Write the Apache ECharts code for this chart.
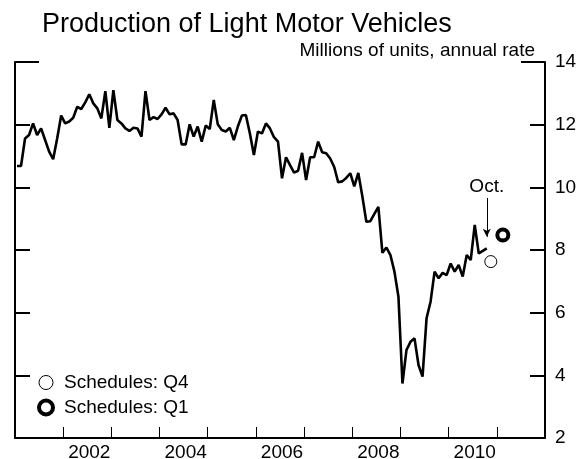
<!DOCTYPE html>
<html>
<head>
<meta charset="utf-8">
<script src="https://cdn.jsdelivr.net/npm/echarts@6/dist/echarts.min.js"></script>
<style>
  html, body { margin: 0; padding: 0; background: #fff; }
  #chart { width: 584px; height: 459px; }
</style>
</head>
<body>
<div id="chart"></div>
<script>
// monthly production, millions of units (annual rate)
const prod2001 = [10.68, 10.68, 11.56, 11.67, 12.04, 11.67, 11.88, 11.51, 11.14, 10.90, 11.56, 12.29]
const prod2002 = [12.04, 12.10, 12.22, 12.57, 12.50, 12.71, 12.97, 12.68, 12.52, 12.20, 13.07, 11.90]
const prod2003 = [13.10, 12.15, 12.04, 11.88, 11.80, 11.90, 11.88, 11.62, 13.07, 12.15, 12.24, 12.18]
const prod2004 = [12.33, 12.54, 12.33, 12.36, 12.15, 11.37, 11.37, 12.01, 11.62, 11.94, 11.46, 11.97]
const prod2005 = [11.86, 12.79, 12.01, 11.83, 11.78, 11.90, 11.51, 11.94, 12.29, 12.31, 11.72, 11.03]
const prod2006 = [11.78, 11.72, 12.04, 11.88, 11.60, 11.46, 10.29, 10.96, 10.71, 10.47, 10.53, 11.10]
const prod2007 = [10.23, 10.96, 10.96, 11.46, 11.12, 11.09, 10.92, 10.65, 10.16, 10.19, 10.30, 10.45]
const prod2008 = [10.03, 10.46, 9.72, 8.90, 8.92, 9.15, 9.38, 7.91, 8.08, 7.84, 7.31, 6.51]
const prod2009 = [3.74, 4.81, 5.07, 5.18, 4.33, 3.96, 5.82, 6.35, 7.31, 7.10, 7.27, 7.20]
const prod2010 = [7.57, 7.31, 7.52, 7.15, 7.84, 7.68, 8.80, 7.89, 7.97, 8.05]

const years = [2001, 2002, 2003, 2004, 2005, 2006, 2007, 2008, 2009, 2010, 2011]
const labelYears = ['2002', '2004', '2006', '2008', '2010']

// schedules (quarter midpoints)
const scheduleQ4 = [['2010-11', 7.63]]
const scheduleQ1 = [['2011-02', 8.48]]
const octMonth = '2010-10'

const months = []
years.forEach(y => {
  for (let m = 1; m <= 12; m++) months.push(y + '-' + (m < 10 ? '0' + m : m))
})
const production = [].concat(prod2001, prod2002, prod2003, prod2004, prod2005,
  prod2006, prod2007, prod2008, prod2009, prod2010)

const font = 'Liberation Sans, Arial, Helvetica, sans-serif'
const chart = echarts.init(document.getElementById('chart'))

const yBase = {
  type: 'value',
  min: 2,
  max: 14,
  interval: 2,
  splitLine: {show: false},
  axisLine: {show: true, lineStyle: {color: '#000', width: 2}},
  axisTick: {show: true, inside: true, length: 15, lineStyle: {color: '#000', width: 2}},
  axisLabel: {show: false}
}

chart.setOption({
  animation: false,
  backgroundColor: '#fff',
  textStyle: {fontFamily: font, color: '#000'},
  title: [
    {
      text: 'Production of Light Motor Vehicles',
      left: 37,
      top: 6,
      textStyle: {fontSize: 27, fontWeight: 'normal', color: '#000', fontFamily: font}
    },
    {
      text: 'Millions of units, annual rate',
      right: 44,
      top: 36,
      textStyle: {fontSize: 19, fontWeight: 'normal', color: '#000', fontFamily: font}
    }
  ],
  grid: {left: 15, right: 39, top: 62, bottom: 21, outerBoundsMode: 'none'},
  legend: {
    orient: 'vertical',
    left: 32,
    top: 368,
    itemGap: 6,
    itemWidth: 26,
    itemHeight: 14,
    textStyle: {fontSize: 19, color: '#000', fontFamily: font},
    data: [
      {name: 'Schedules: Q4', itemStyle: {color: '#fff', borderColor: '#000', borderWidth: 1, opacity: 1}},
      {name: 'Schedules: Q1', itemStyle: {color: '#fff', borderColor: '#000', borderWidth: 4, opacity: 1}}
    ]
  },
  xAxis: {
    type: 'category',
    data: months,
    boundaryGap: true,
    axisLine: {show: true, lineStyle: {color: '#000', width: 2}},
    axisTick: {
      show: true,
      inside: true,
      length: 11,
      interval: (i, v) => v.slice(5) === '01',
      lineStyle: {color: '#000', width: 1}
    },
    axisLabel: {
      interval: (i, v) => v.slice(5) === '07' && labelYears.includes(v.slice(0, 4)),
      formatter: v => v.slice(0, 4),
      fontSize: 19,
      color: '#000',
      margin: 5
    },
    splitLine: {show: false}
  },
  yAxis: [
    Object.assign({}, yBase, {
      position: 'right',
      axisLabel: {show: true, fontSize: 19, color: '#000', margin: 10}
    }),
    Object.assign({}, yBase, {position: 'left'}),
    Object.assign({}, yBase, {
      position: 'right', interval: 12,
      axisLine: {show: false},
      axisTick: {show: true, inside: true, length: 24, lineStyle: {color: '#000', width: 2}}
    }),
    Object.assign({}, yBase, {
      position: 'left', interval: 12,
      axisLine: {show: false},
      axisTick: {show: true, inside: true, length: 24, lineStyle: {color: '#000', width: 2}}
    })
  ],
  series: [
    {
      type: 'line',
      name: 'Production',
      data: production,
      symbol: 'none',
      lineStyle: {color: '#000', width: 2.6},
      itemStyle: {color: '#000'},
      markLine: {
        silent: true,
        symbol: ['none', 'arrow'],
        symbolSize: [6, 8],
        lineStyle: {color: '#000', width: 1, type: 'solid'},
        label: {
          show: true,
          position: 'start',
          formatter: 'Oct.',
          fontSize: 19,
          color: '#000',
          distance: 2
        },
        data: [[{coord: [octMonth, 9.66]}, {coord: [octMonth, 8.42]}]]
      }
    },
    {
      type: 'scatter',
      name: 'Schedules: Q4',
      data: scheduleQ4,
      symbol: 'circle',
      symbolSize: 12,
      itemStyle: {color: '#fff', borderColor: '#000', borderWidth: 1, opacity: 1}
    },
    {
      type: 'scatter',
      name: 'Schedules: Q1',
      data: scheduleQ1,
      symbol: 'circle',
      symbolSize: 11,
      itemStyle: {color: '#fff', borderColor: '#000', borderWidth: 4, opacity: 1}
    }
  ]
})
</script>
</body>
</html>
